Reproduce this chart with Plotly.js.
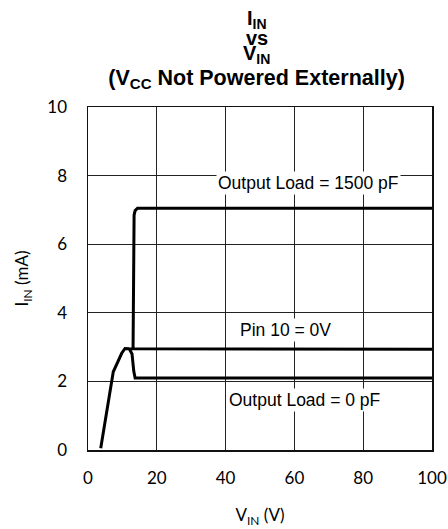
<!DOCTYPE html>
<html>
<head>
<meta charset="utf-8">
<script src="https://cdn.plot.ly/plotly-3.0.1.min.js"></script>
<style>html,body{margin:0;padding:0;background:#fff;}#chart{width:448px;height:529px;}</style>
</head>
<body>
<div id="chart"></div>
<script>
// Data
var vinPin10 = [3.7, 4.45, 7.35, 9.8, 10.75, 12.0, 100];
var iinPin10 = [0.05, 0.49, 2.28, 2.82, 2.96, 2.95, 2.94];

var vinLoad0 = [12.0, 12.8, 13.3, 13.7, 100];
var iinLoad0 = [2.95, 2.8, 2.3, 2.1, 2.1];

var vinLoad1500 = [13.1, 13.2, 13.4, 13.7, 14.4, 100];
var iinLoad1500 = [2.95, 6.5, 6.85, 6.98, 7.05, 7.05];

var xTickVals = [0, 20, 40, 60, 80, 100];
var yTickVals = [0, 2, 4, 6, 8, 10];

var labelText = ["Output Load = 1500 pF", "Pin 10 = 0V", "Output Load = 0 pF"];
var labelX = [64, 57.5, 62.8];
var labelY = [7.78, 3.5, 1.46];

var titleLines = ["I<sub>IN</sub>", "vs", "V<sub>IN</sub>"];
var titleLineY = [1.256, 1.2, 1.152];

var lineStyle = {color: '#000', width: 3};

var traces = [
  {x: vinPin10, y: iinPin10, mode: 'lines', line: lineStyle, name: 'Pin 10 = 0V', hoverinfo: 'x+y'},
  {x: vinLoad0, y: iinLoad0, mode: 'lines', line: lineStyle, name: 'Output Load = 0 pF', hoverinfo: 'x+y'},
  {x: vinLoad1500, y: iinLoad1500, mode: 'lines', line: lineStyle, name: 'Output Load = 1500 pF', hoverinfo: 'x+y'}
];

var annotations = [];
for (var i = 0; i < labelText.length; i++) {
  annotations.push({
    x: labelX[i], y: labelY[i], xref: 'x', yref: 'y', text: labelText[i],
    showarrow: false, bgcolor: '#fff', borderpad: 1,
    font: {family: 'Liberation Sans, Arial, sans-serif', size: 17.5, color: '#000'}
  });
}
for (var j = 0; j < titleLines.length; j++) {
  annotations.push({
    x: 0.49, y: titleLineY[j], xref: 'paper', yref: 'paper', text: titleLines[j],
    showarrow: false, xanchor: 'center', yanchor: 'middle',
    font: {family: 'Liberation Sans, Arial, sans-serif', size: 20, color: '#000', weight: 'bold'}
  });
}

var tickFont = {family: 'Lato', size: 17, color: '#000'};

var layout = {
  width: 448, height: 529,
  margin: {l: 88, r: 16, t: 107, b: 79},
  paper_bgcolor: '#fff', plot_bgcolor: '#fff',
  showlegend: false,
  title: {
    text: '(V<sub>CC</sub> Not Powered Externally)',
    x: 0.49, xref: 'paper', xanchor: 'center',
    y: 1 - 77 / 529, yref: 'container', yanchor: 'middle',
    font: {family: 'Liberation Sans, Arial, sans-serif', size: 21.5, color: '#000', weight: 'bold'}
  },
  xaxis: {
    range: [0, 100], tickvals: xTickVals, ticktext: xTickVals.map(String),
    showgrid: true, gridcolor: '#222', gridwidth: 1,
    showline: true, mirror: true, linecolor: '#111', linewidth: 1.5,
    ticks: 'outside', ticklen: 12, tickcolor: 'rgba(0,0,0,0)',
    zeroline: false, tickfont: tickFont,
    title: {text: 'V<sub>IN</sub> (V)', font: tickFont, standoff: 22},
    fixedrange: true
  },
  yaxis: {
    range: [0, 10], tickvals: yTickVals, ticktext: yTickVals.map(String),
    showgrid: true, gridcolor: '#222', gridwidth: 1,
    showline: true, mirror: true, linecolor: '#111', linewidth: 1.5,
    ticks: 'outside', ticklen: 16, tickcolor: 'rgba(0,0,0,0)',
    zeroline: false, tickfont: tickFont,
    title: {text: 'I<sub>IN</sub> (mA)', font: tickFont, standoff: 14},
    fixedrange: true
  },
  annotations: annotations
};

Plotly.newPlot('chart', traces, layout, {displayModeBar: false, staticPlot: true});
</script>
</body>
</html>
